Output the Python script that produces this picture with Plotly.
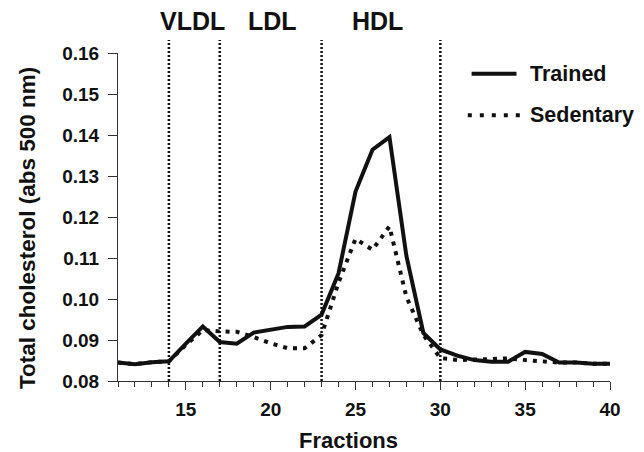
import plotly.graph_objects as go

fractions = list(range(11, 41))
trained = [0.0845, 0.0841, 0.0846, 0.0848, 0.0891, 0.0933, 0.0895, 0.0891, 0.0918, 0.0926,
           0.0932, 0.0933, 0.0962, 0.1063, 0.1262, 0.1364, 0.1395, 0.1105, 0.0917, 0.0877,
           0.0862, 0.0851, 0.0847, 0.0847, 0.0871, 0.0866, 0.0845, 0.0845, 0.0842, 0.0842]
sedentary = [0.0845, 0.0841, 0.0846, 0.0848, 0.0888, 0.0924, 0.0921, 0.0920, 0.0907, 0.0892,
             0.0880, 0.0880, 0.0912, 0.1040, 0.1147, 0.1120, 0.1177, 0.1005, 0.0912, 0.0856,
             0.0851, 0.0852, 0.0855, 0.0855, 0.0851, 0.0847, 0.0845, 0.0845, 0.0842, 0.0842]
boundaries = [14, 17, 23, 30]
region_labels = ["VLDL", "LDL", "HDL"]
region_centers = [15.38, 20.1, 26.3]

FONT = "Liberation Sans, Arial, Helvetica, sans-serif"
INK = "#111111"
AX = "#333333"

fig = go.Figure()
fig.add_trace(go.Scatter(x=fractions, y=sedentary, mode="lines", name="Sedentary",
                         line=dict(color=INK, width=4, dash="4px,6px"), showlegend=False))
fig.add_trace(go.Scatter(x=fractions, y=trained, mode="lines", name="Trained",
                         line=dict(color=INK, width=4), showlegend=False))

for b in boundaries:
    fig.add_shape(type="line", xref="x", yref="paper", x0=b, x1=b, y0=0, y1=1.04,
                  line=dict(color=INK, width=2.5, dash="2px,2px"))

for lab, cx in zip(region_labels, region_centers):
    fig.add_annotation(x=cx, xref="x", y=1.0975, yref="paper", text=lab, showarrow=False,
                       font=dict(family=FONT, size=25, color=INK, weight="bold"),
                       yanchor="middle")

# legend (manual)
fig.add_shape(type="line", xref="paper", yref="paper", x0=0.7187, x1=0.810, y0=0.9368, y1=0.9368,
              line=dict(color=INK, width=4))
fig.add_shape(type="line", xref="paper", yref="paper", x0=0.711, x1=0.817, y0=0.810, y1=0.810,
              line=dict(color=INK, width=4, dash="4px,8px"))
fig.add_annotation(x=0.833, xref="paper", y=0.9368, yref="paper", text="Trained", showarrow=False,
                   xanchor="left", yanchor="middle",
                   font=dict(family=FONT, size=21.5, color=INK, weight="bold"))
fig.add_annotation(x=0.833, xref="paper", y=0.810, yref="paper", text="Sedentary", showarrow=False,
                   xanchor="left", yanchor="middle",
                   font=dict(family=FONT, size=21.5, color=INK, weight="bold"))

# axis titles
fig.add_annotation(x=-0.184, xref="paper", y=0.468, yref="paper", text="Total cholesterol (abs 500 nm)",
                   textangle=-90, showarrow=False, xanchor="center", yanchor="middle",
                   font=dict(family=FONT, size=22.5, color=INK, weight="bold"))
fig.add_annotation(x=0.4675, xref="paper", y=-0.18, yref="paper", text="Fractions",
                   showarrow=False, xanchor="center", yanchor="middle",
                   font=dict(family=FONT, size=22, color=INK, weight="bold"))

fig.update_layout(
    width=636, height=444,
    margin=dict(l=110, r=34, t=45, b=71),
    paper_bgcolor="white", plot_bgcolor="white",
    font=dict(family=FONT, color=INK),
)
fig.update_xaxes(range=[11, 40], tick0=0, dtick=5, ticks="outside", ticklen=8, tickwidth=1,
                 tickcolor=AX, showline=True, linecolor=AX, linewidth=1,
                 showgrid=False, zeroline=False, ticklabelstandoff=3,
                 minor=dict(dtick=1, ticks="outside", ticklen=5, tickcolor=AX, showgrid=False),
                 tickfont=dict(family=FONT, size=19, color=INK, weight="bold"))
fig.update_yaxes(range=[0.08, 0.16], dtick=0.01, tickformat=".2f", ticks="outside", ticklen=9,
                 tickcolor=AX, showline=True, linecolor=AX, linewidth=1,
                 showgrid=False, zeroline=False, ticklabelstandoff=5,
                 tickfont=dict(family=FONT, size=19, color=INK, weight="bold"))

fig.write_html("out.html")
